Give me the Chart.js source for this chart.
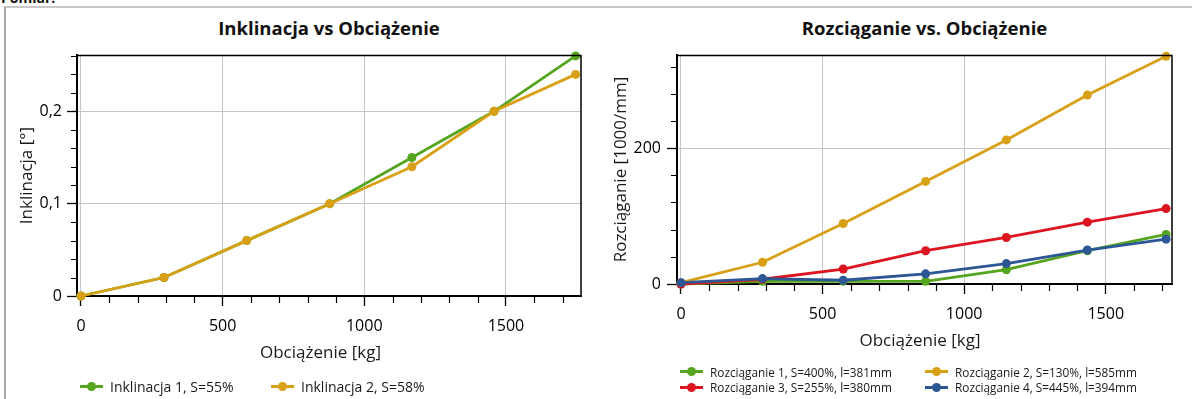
<!DOCTYPE html>
<html><head><meta charset="utf-8">
<script src="https://cdn.jsdelivr.net/npm/chart.js@4.4.0/dist/chart.umd.min.js"></script>
<style>
html,body{margin:0;padding:0;background:#fff;width:1192px;height:399px;overflow:hidden;font-family:"Open Sans",sans-serif;color:#111;}
.abs{position:absolute;}
#frameL{left:4px;top:7px;width:2px;height:400px;background:#a8a8a8;}
#frameT{left:4px;top:6px;width:1188px;height:2px;background:#c8c8c8;}
#pomiar{left:1px;top:-10px;font-weight:bold;font-size:14px;line-height:16px;}
.title{position:absolute;font-weight:bold;font-size:18.5px;line-height:22px;text-align:center;color:#111;}
.axt{position:absolute;font-size:17px;line-height:20px;text-align:center;color:#1a1a1a;width:300px;}
.leg{position:absolute;display:flex;align-items:center;white-space:nowrap;color:#1a1a1a;}
.leg .ic{position:relative;width:23px;height:3px;margin-right:7px;}
.leg .ic i{position:absolute;left:7px;top:-3px;width:9px;height:9px;border-radius:50%;}
</style></head>
<body>
<div id="pomiar" class="abs">Pomiar:</div>
<div id="frameT" class="abs"></div>
<div id="frameL" class="abs"></div>
<div class="title" style="left:77px;top:17px;width:504px;">Inklinacja vs Obciążenie</div>
<div class="title" style="left:677px;top:17px;width:495px;">Rozciąganie vs. Obciążenie</div>
<canvas id="c1" class="abs" width="588" height="389" style="left:8px;top:10px;"></canvas>
<canvas id="c2" class="abs" width="592" height="389" style="left:600px;top:10px;"></canvas>
<div class="axt" style="left:170.5px;top:341.5px;">Obciążenie [kg]</div>
<div class="axt" style="left:770px;top:330px;">Obciążenie [kg]</div>
<div id="legends"></div>
<script>
// ---- data ----
const loadInkl = [0, 293, 585, 878, 1168, 1458, 1746];
const inkl1 = [0, 0.02, 0.06, 0.10, 0.15, 0.20, 0.26];
const inkl2 = [0, 0.02, 0.06, 0.10, 0.14, 0.20, 0.24];
const inklLabels = ['Inklinacja 1, S=55%', 'Inklinacja 2, S=58%'];
const inklYTicks = [0, 0.1, 0.2];

const loadRozc = [0, 288, 573, 864, 1149, 1435, 1713];
const rozc1 = [0, 4, 4, 4, 21, 49, 73];
const rozc2 = [2, 32, 89, 151, 212, 278, 335];
const rozc3 = [0, 7, 22, 49, 68.5, 91, 111];
const rozc4 = [2, 8, 5.5, 15, 30, 50, 66];
const rozcLabels = ['Rozciąganie 1, S=400%, l=381mm', 'Rozciąganie 2, S=130%, l=585mm',
                    'Rozciąganie 3, S=255%, l=380mm', 'Rozciąganie 4, S=445%, l=394mm'];
const rozcYTicks = [0, 200];

const xTicks = [0, 500, 1000, 1500];
const colors = {green:'#55a51f', orange:'#d8a016', red:'#dd1520', blue:'#2c5694'};
const FONT = '"Open Sans", sans-serif';

function pts(xs, ys){ return xs.map((x,i)=>({x:x, y:ys[i]})); }
function ds(label, xs, ys, color, order){
  return {label, data: pts(xs, ys), borderColor: color, backgroundColor: color,
    pointBackgroundColor: color, pointBorderColor: color, borderWidth: 2.8,
    pointRadius: 4.5, pointHoverRadius: 4.5, pointBorderWidth: 0, tension: 0, clip: false, order};
}

const frameMinor = {
  id: 'frameMinor',
  afterDraw(chart, args, o){
    const {ctx, chartArea: a, scales: {x, y}} = chart;
    ctx.save();
    ctx.strokeStyle = '#000';
    ctx.lineWidth = 1.5;
    ctx.beginPath();
    ctx.moveTo(a.left, a.top + 0.5); ctx.lineTo(a.right, a.top + 0.5); ctx.lineTo(a.right, a.bottom);
    ctx.stroke();
    ctx.lineWidth = 1.2;
    ctx.beginPath();
    for (let v = o.xStep; v <= x.max; v += o.xStep) {
      if (Math.abs(v % o.xMajor) < 1e-9) continue;
      const px = Math.round(x.getPixelForValue(v)) + 0.5;
      ctx.moveTo(px, a.bottom); ctx.lineTo(px, a.bottom + 7);
    }
    for (let k = 1; k * o.yStep <= y.max + 1e-9; k++) {
      const v = k * o.yStep;
      if (Math.abs(v / o.yMajor - Math.round(v / o.yMajor)) < 1e-6) continue;
      const py = Math.round(y.getPixelForValue(v)) + 0.5;
      ctx.moveTo(a.left, py); ctx.lineTo(a.left - 6, py);
    }
    ctx.stroke();
    ctx.restore();
  }
};

function makeOptions(cfg){
  return {
    responsive: false, animation: false, events: [],
    layout: {padding: cfg.padding},
    plugins: {legend: {display: false}, title: {display: false}, tooltip: {enabled: false},
      frameMinor: cfg.minor},
    scales: {
      x: {type: 'linear', min: -14, max: cfg.xMax,
        afterBuildTicks(s){ s.ticks = xTicks.map(v => ({value: v})); },
        ticks: {padding: 11, color: '#000', maxRotation: 0, autoSkip: false,
          font: {family: FONT, size: 16}, callback: v => String(v)},
        grid: {color: '#c6c6c6', lineWidth: 1, tickLength: 10, tickColor: '#000', tickWidth: 1.3},
        border: {color: '#000', width: 2},
        title: {display: false},
        afterFit(s){ s.height = 69.5; }
      },
      y: {type: 'linear', min: 0, max: cfg.yMax,
        afterBuildTicks(s){ s.ticks = cfg.yTicks.map(v => ({value: v})); },
        ticks: {padding: cfg.yTickPad, color: '#000', autoSkip: false,
          font: {family: FONT, size: 16}, callback: cfg.fmt},
        grid: {color: '#c6c6c6', lineWidth: 1, tickLength: 10, tickColor: '#000', tickWidth: 1.3},
        border: {color: '#000', width: 2},
        title: {display: true, text: cfg.yTitle, color: '#1a1a1a', font: {family: FONT, size: 17},
          padding: {top: cfg.yTitlePad, bottom: 0}},
        afterFit(s){ s.width = cfg.yWidth; }
      }
    }
  };
}

new Chart(document.getElementById('c1'), {
  type: 'line',
  data: {datasets: [
    ds(inklLabels[0], loadInkl, inkl1, colors.green, 1),
    ds(inklLabels[1], loadInkl, inkl2, colors.orange, 0)
  ]},
  options: makeOptions({padding: {left: 0, top: 45, right: 15, bottom: 33.5}, xMax: 1765, yMax: 0.261,
    yTicks: inklYTicks, yTickPad: 5, yWidth: 69, yTitlePad: 8.5, yTitle: 'Inklinacja [°]',
    fmt: v => (Math.round(v * 10) / 10).toString().replace('.', ','),
    minor: {xStep: 100, xMajor: 500, yStep: 0.02, yMajor: 0.1}}),
  plugins: [frameMinor]
});

new Chart(document.getElementById('c2'), {
  type: 'line',
  data: {datasets: [
    ds(rozcLabels[0], loadRozc, rozc1, colors.green, 3),
    ds(rozcLabels[1], loadRozc, rozc2, colors.orange, 2),
    ds(rozcLabels[2], loadRozc, rozc3, colors.red, 1),
    ds(rozcLabels[3], loadRozc, rozc4, colors.blue, 0)
  ]},
  options: makeOptions({padding: {left: 0, top: 45, right: 20, bottom: 45.5}, xMax: 1734, yMax: 337,
    yTicks: rozcYTicks, yTickPad: 6, yWidth: 77, yTitlePad: 10.5, yTitle: 'Rozciąganie [1000/mm]',
    fmt: v => String(Math.round(v)),
    minor: {xStep: 100, xMajor: 500, yStep: 40, yMajor: 200}}),
  plugins: [frameMinor]
});

// ---- HTML legends (built from the dataset labels / colours) ----
const legendItems = [
  {text: inklLabels[0], color: colors.green, left: 80, cy: 386, size: 14},
  {text: inklLabels[1], color: colors.orange, left: 271, cy: 386, size: 14},
  {text: rozcLabels[0], color: colors.green, left: 680, cy: 371.5, size: 11.8},
  {text: rozcLabels[1], color: colors.orange, left: 925, cy: 371.5, size: 11.8},
  {text: rozcLabels[2], color: colors.red, left: 680, cy: 387, size: 11.8},
  {text: rozcLabels[3], color: colors.blue, left: 925, cy: 387, size: 11.8}
];
const host = document.getElementById('legends');
legendItems.forEach(it => {
  const d = document.createElement('div');
  d.className = 'leg';
  d.style.left = it.left + 'px';
  d.style.top = (it.cy - 8) + 'px';
  d.style.height = '16px';
  d.style.fontSize = it.size + 'px';
  const ic = document.createElement('span');
  ic.className = 'ic';
  ic.style.background = it.color;
  const dot = document.createElement('i');
  dot.style.background = it.color;
  ic.appendChild(dot);
  const t = document.createElement('span');
  t.textContent = it.text;
  d.appendChild(ic); d.appendChild(t);
  host.appendChild(d);
});
</script>
</body></html>
